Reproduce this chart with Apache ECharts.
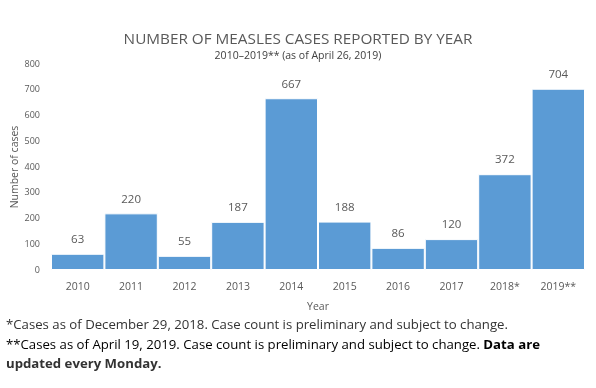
<!DOCTYPE html>
<html><head><meta charset="utf-8">
<script src="https://cdn.jsdelivr.net/npm/echarts@6/dist/echarts.min.js"></script>
<style>html,body{margin:0;padding:0;background:#fff}#c{width:596px;height:388px}</style>
</head><body><div id="c"></div>
<script>
const categories = ['2010','2011','2012','2013','2014','2015','2016','2017','2018*','2019**'];
const cases = [63,220,55,187,667,188,86,120,372,704];
const yTicks = [0,100,200,300,400,500,600,700,800];

const chart = echarts.init(document.getElementById('c'));
const FONT = '"Open Sans", sans-serif';
chart.setOption({
  animation:false,
  title:{
    text:'NUMBER OF MEASLES CASES REPORTED BY YEAR',
    subtext:'2010\u20132019** (as of April 26, 2019)',
    left:'center', top:27, itemGap:4,
    textStyle:{fontFamily:FONT,fontSize:15.3,fontWeight:'normal',color:'#595959'},
    subtextStyle:{fontFamily:FONT,fontSize:10.5,color:'#404040'}
  },
  grid:{left:51,right:11,top:64,bottom:118,outerBoundsMode:'none',containLabel:false},
  xAxis:{
    type:'category', data:categories,
    name:'Year', nameLocation:'middle', nameGap:32, nameMoveOverlap:false,
    nameTextStyle:{fontFamily:FONT,fontSize:10.5,color:'#595959'},
    axisLine:{show:false}, axisTick:{show:false},
    axisLabel:{fontFamily:FONT,fontSize:10.5,color:'#595959',margin:12}
  },
  yAxis:{
    type:'value', min:yTicks[0], max:yTicks[yTicks.length-1], interval:100,
    name:'Number of cases', nameLocation:'middle', nameGap:30, nameMoveOverlap:false,
    nameTextStyle:{fontFamily:FONT,fontSize:10.5,color:'#595959'},
    axisLine:{show:false}, axisTick:{show:false}, splitLine:{show:false},
    axisLabel:{fontFamily:FONT,fontSize:9,color:'#595959',margin:11}
  },
  series:[{
    type:'bar', data:cases, barCategoryGap:'0%',
    itemStyle:{color:'#5B9BD5',borderColor:'#ffffff',borderWidth:1},
    label:{show:true,position:'top',distance:8,fontFamily:FONT,fontSize:11.5,color:'#595959'}
  }],
  graphic:[
    {type:'text',left:6,top:319,style:{text:'*Cases as of December 29, 2018. Case count is preliminary and subject to change.',font:'13.2px "Open Sans", sans-serif',fill:'#333'}},
    {type:'text',left:6,top:339,style:{
      text:'{n|**Cases as of April 19, 2019. Case count is preliminary and subject to change. }{b|Data are}',
      rich:{n:{fontFamily:FONT,fontSize:13.2,color:'#333'},b:{fontFamily:FONT,fontSize:13.2,fontWeight:'bold',color:'#333'}}}},
    {type:'text',left:6,top:358,style:{text:'updated every Monday.',font:'bold 13.2px "Open Sans", sans-serif',fill:'#333'}}
  ]
});
</script></body></html>
